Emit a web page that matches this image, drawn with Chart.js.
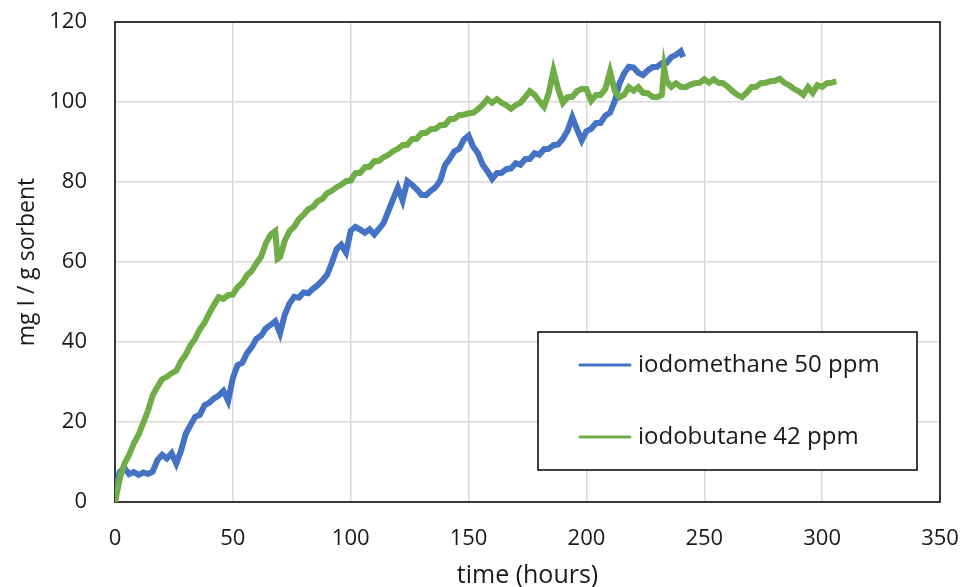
<!DOCTYPE html>
<html>
<head>
<meta charset="utf-8">
<script src="https://cdn.jsdelivr.net/npm/chart.js@4"></script>
<style>
    html, body { margin: 0; padding: 0; background: #fff; }
    #wrap { width: 964px; height: 587px; }
</style>
</head>
<body>
<div id="wrap"><canvas id="sorptionChart" width="964" height="587"></canvas></div>
<script>
// time (hours) and uptake (mg I / g sorbent)
const methaneHours = [0, 1, 2, 4, 6, 8, 10, 12, 14, 16, 18, 20, 22, 24, 26, 28, 30, 32, 34, 36, 38, 40,
    42, 44, 46, 48, 50, 52, 54, 56, 58, 60, 62, 64, 66, 68, 70, 72, 74, 76, 78, 80, 82, 84, 86, 88, 90,
    92, 94, 96, 98, 100, 102, 104, 106, 108, 110, 112, 114, 116, 118, 120, 122, 124, 126, 128, 130, 132,
    134, 136, 138, 140, 142, 144, 146, 148, 150, 152, 154, 156, 158, 160, 162, 164, 166, 168, 170, 172,
    174, 176, 178, 180, 182, 184, 186, 188, 190, 192, 194, 196, 198, 200, 202, 204, 206, 208, 210, 212,
    214, 216, 218, 220, 222, 224, 226, 228, 230, 232, 234, 236, 238, 240, 241];
const methaneValues = [0, 5, 7.5, 8.5, 7, 7.5, 6.8, 7.4, 7, 7.6, 10.5, 11.8, 10.9, 12.2, 9.6, 12.8, 17, 19.2,
    21.3, 21.8, 24.2, 24.8, 25.9, 26.6, 27.8, 25.3, 31, 34.2, 34.8, 37.2, 38.7, 40.8, 41.6, 43.4, 44.3,
    45.2, 42.2, 46.8, 49.6, 51.3, 51.1, 52.4, 52.2, 53.3, 54.2, 55.4, 56.8, 59.8, 63.2, 64.3, 62.4, 67.8,
    68.8, 68.1, 67.3, 68.2, 66.9, 68.3, 69.8, 72.8, 75.7, 78.6, 75.4, 80.2, 79.3, 78.2, 76.8, 76.7, 77.8,
    78.7, 80.4, 84.2, 85.8, 87.7, 88.3, 90.6, 91.6, 88.8, 87.2, 84.3, 82.7, 80.8, 82.2, 82.3, 83.2, 83.4,
    84.7, 84.3, 85.7, 85.8, 87.2, 86.8, 88.2, 88.3, 89.2, 89.4, 90.8, 92.8, 96.2, 93.2, 90.4, 92.7, 93.3,
    94.7, 94.8, 96.6, 97.3, 100.2, 104.6, 107.2, 108.8, 108.6, 107.3, 106.7, 107.9, 108.7, 108.8, 109.7,
    109.8, 111.2, 111.8, 112.7, 111.2];

const butaneHours = [0, 2, 4, 6, 8, 10, 12, 14, 16, 18, 20, 22, 24, 26, 28, 30, 32, 34, 36, 38, 40, 42,
    44, 46, 48, 50, 52, 54, 56, 58, 60, 62, 64, 66, 68, 69, 70, 72, 74, 76, 78, 80, 82, 84, 86, 88, 90,
    92, 94, 96, 98, 100, 102, 104, 106, 108, 110, 112, 114, 116, 118, 120, 122, 124, 126, 128, 130, 132,
    134, 136, 138, 140, 142, 144, 146, 148, 150, 152, 154, 156, 158, 160, 162, 164, 166, 168, 170, 172,
    174, 176, 178, 180, 182, 184, 186, 188, 190, 192, 194, 196, 198, 200, 202, 204, 206, 208, 210, 212,
    214, 216, 218, 220, 222, 224, 226, 228, 230, 232, 233, 234, 236, 238, 240, 242, 244, 246, 248, 250,
    252, 254, 256, 258, 260, 262, 264, 266, 268, 270, 272, 274, 276, 278, 280, 282, 284, 286, 288, 290,
    292, 294, 296, 298, 300, 302, 304, 306];
const butaneValues = [0, 5.8, 9.6, 11.8, 14.7, 16.8, 19.8, 22.8, 26.7, 28.8, 30.7, 31.3, 32.2, 32.8, 35.2,
    36.8, 39.2, 40.8, 43.2, 44.8, 47.2, 49.3, 51.2, 50.8, 51.7, 51.9, 53.7, 54.8, 56.7, 57.8, 59.7, 61.3,
    64.7, 66.8, 67.7, 60.8, 61.2, 65.3, 67.7, 68.8, 70.7, 71.8, 73.2, 73.8, 75.2, 75.8, 77.2, 77.8, 78.7,
    79.3, 80.2, 80.4, 82.2, 82.3, 83.7, 83.8, 85.2, 85.3, 86.2, 86.8, 87.7, 88.3, 89.2, 89.3, 90.7, 90.8,
    92.2, 92.3, 93.2, 93.3, 94.2, 94.3, 95.7, 95.8, 96.7, 96.8, 97.2, 97.3, 98.2, 99.3, 100.7, 99.8, 100.7,
    99.8, 99.2, 98.3, 99.2, 99.8, 101.2, 102.7, 101.8, 100.2, 98.8, 102.2, 107.8, 103.2, 99.8, 101.2,
    101.3, 102.7, 103.3, 103.2, 100.3, 101.7, 101.8, 103.2, 107.6, 102.8, 101.2, 101.8, 103.7, 102.8,
    103.7, 102.3, 102.2, 101.3, 101.2, 101.8, 108.4, 105.2, 103.8, 104.7, 103.8, 103.7, 104.3, 104.7,
    104.8, 105.7, 104.8, 105.7, 104.8, 104.7, 103.8, 102.7, 101.8, 101.2, 102.3, 103.7, 103.8, 104.7,
    104.8, 105.2, 105.3, 105.8, 104.8, 104.2, 103.3, 102.7, 101.8, 103.7, 102.3, 104.2, 103.8, 104.7,
    104.8, 105.2];

const seriesLabels = ["iodomethane 50 ppm", "iodobutane 42 ppm"];
const xTicks = [0, 50, 100, 150, 200, 250, 300, 350];
const yTicks = [0, 20, 40, 60, 80, 100, 120];

const FONT = "'Open Sans', sans-serif";
const TEXT = "#1a1a1a";

function toPoints(xs, ys) {
    return xs.map((x, i) => ({ x: x, y: ys[i] }));
}

// plot frame + legend box (Excel style, inside plot area)
const frameAndLegend = {
    id: "frameAndLegend",
    beforeDatasetsDraw(chart) {
        const { ctx, chartArea: a } = chart;
        ctx.save();
        ctx.strokeStyle = "#000";
        ctx.lineWidth = 1.5;
        ctx.strokeRect(a.left, a.top, a.right - a.left, a.bottom - a.top);
        ctx.restore();
    },
    afterDraw(chart) {
        const { ctx } = chart;
        const box = { x: 538, y: 332, w: 379, h: 138 };
        ctx.save();
        ctx.fillStyle = "#fff";
        ctx.fillRect(box.x, box.y, box.w, box.h);
        ctx.strokeStyle = "#000";
        ctx.lineWidth = 1.5;
        ctx.strokeRect(box.x, box.y, box.w, box.h);
        ctx.font = "24px " + FONT;
        ctx.textBaseline = "middle";
        chart.data.datasets.forEach((ds, i) => {
            const y = box.y + 33 + i * 72;
            ctx.strokeStyle = ds.borderColor;
            ctx.lineWidth = 3;
            ctx.lineCap = "round";
            ctx.beginPath();
            ctx.moveTo(580, y);
            ctx.lineTo(630, y);
            ctx.stroke();
            ctx.fillStyle = TEXT;
            ctx.fillText(ds.label, 638, y);
        });
        ctx.restore();
    }
};

new Chart(document.getElementById("sorptionChart"), {
    type: "line",
    data: {
        datasets: [
            {
                label: seriesLabels[0],
                data: toPoints(methaneHours, methaneValues),
                borderColor: "#4472C4",
                borderWidth: 6,
                pointRadius: 0,
                tension: 0,
                order: 1
            },
            {
                label: seriesLabels[1],
                data: toPoints(butaneHours, butaneValues),
                borderColor: "#70AD47",
                borderWidth: 6,
                pointRadius: 0,
                tension: 0,
                order: 0
            }
        ]
    },
    options: {
        responsive: false,
        animation: false,
        layout: { padding: { top: 22, right: 24, left: 0, bottom: 0 } },
        plugins: {
            legend: { display: false },
            tooltip: { enabled: false }
        },
        scales: {
            x: {
                type: "linear",
                min: 0,
                max: 350,
                afterBuildTicks: (s) => { s.ticks = xTicks.map(v => ({ value: v })); },
                afterFit: (s) => { s.height = 85; s.paddingLeft = 0; s.paddingRight = 0; },
                grid: { color: "#d9d9d9", lineWidth: 1.5, drawTicks: false },
                border: { display: false },
                ticks: { color: TEXT, padding: 24, font: { family: FONT, size: 22 } },
                title: {
                    display: true,
                    text: "time (hours)",
                    color: TEXT,
                    font: { family: FONT, size: 25 },
                    padding: { top: 0, bottom: -4 }
                }
            },
            y: {
                min: 0,
                max: 120,
                afterBuildTicks: (s) => { s.ticks = yTicks.map(v => ({ value: v })); },
                afterFit: (s) => { s.width = 115; s.paddingTop = 0; s.paddingBottom = 0; },
                grid: { color: "#d9d9d9", lineWidth: 1.5, drawTicks: false },
                border: { display: false },
                ticks: { color: TEXT, padding: 28, font: { family: FONT, size: 22 } },
                title: {
                    display: true,
                    text: "mg I / g sorbent",
                    color: TEXT,
                    font: { family: FONT, size: 23 },
                    padding: { top: 14, bottom: 0 }
                }
            }
        }
    },
    plugins: [frameAndLegend]
});
</script>
</body>
</html>
